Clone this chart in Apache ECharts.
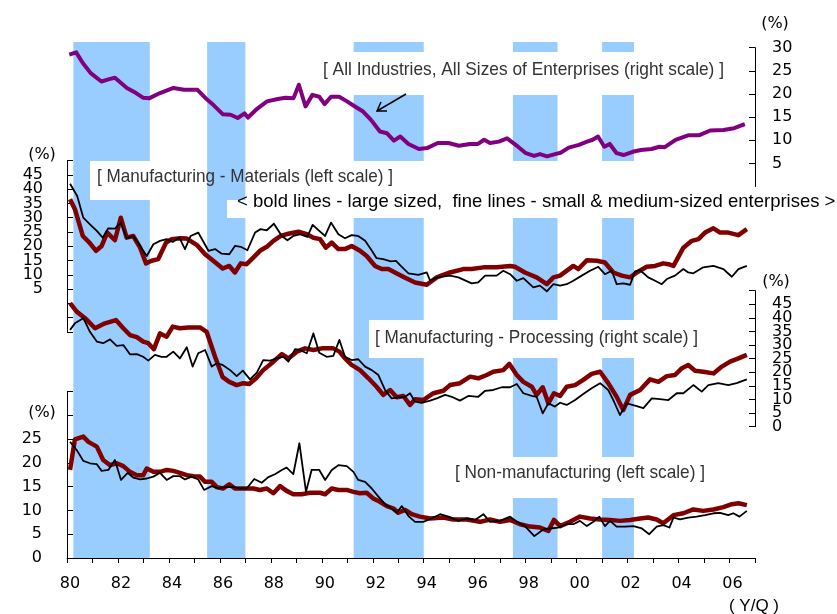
<!DOCTYPE html>
<html>
<head>
<meta charset="utf-8">
<script src="https://cdn.jsdelivr.net/npm/echarts@6/dist/echarts.min.js"></script>
<style>
html,body{margin:0;padding:0;background:#fff}
#chart{width:837px;height:614px}
</style>
</head>
<body>
<div id="chart"></div>
<script>
// shaded periods (year, decimal)
var recessions = [[1980.25,1983.25],[1985.5,1987.0],[1991.25,1994.0],[1997.5,1999.25],[2001.0,2002.25]];

// All industries, all sizes (right scale, top)
var allIndustries = [[1980.09,28.5],[1980.36,29.0],[1980.62,26.7],[1980.93,24.5],[1981.35,22.7],[1981.66,23.2],[1981.88,23.5],[1982.35,21.3],[1982.71,20.2],[1982.98,19.2],[1983.24,19.1],[1983.65,20.2],[1984.18,21.3],[1984.59,20.9],[1985.12,20.9],[1985.44,19.1],[1985.75,17.6],[1986.12,15.6],[1986.42,15.5],[1986.70,14.8],[1986.97,15.8],[1987.10,14.9],[1987.42,16.6],[1987.85,18.4],[1988.27,18.9],[1988.58,19.2],[1988.89,19.1],[1989.10,22.0],[1989.36,17.3],[1989.63,19.8],[1989.90,19.4],[1990.11,17.8],[1990.36,19.4],[1990.68,19.4],[1990.99,18.4],[1991.30,17.3],[1991.62,16.2],[1991.93,14.4],[1992.28,11.9],[1992.56,11.5],[1992.83,9.9],[1993.08,10.8],[1993.40,9.2],[1993.81,8.1],[1994.13,8.3],[1994.55,9.4],[1994.97,9.4],[1995.38,8.8],[1995.81,9.2],[1996.13,9.2],[1996.37,10.1],[1996.60,9.4],[1996.95,9.7],[1997.27,10.4],[1997.70,8.6],[1998.01,7.2],[1998.33,6.6],[1998.56,7.0],[1998.84,6.5],[1999.15,7.0],[1999.37,7.3],[1999.69,8.4],[2000.09,9.0],[2000.41,9.7],[2000.63,10.1],[2000.84,10.8],[2001.09,8.6],[2001.30,9.2],[2001.57,7.2],[2001.84,6.8],[2002.20,7.5],[2002.52,7.9],[2002.94,8.1],[2003.25,8.6],[2003.46,8.5],[2003.88,10.1],[2004.40,11.1],[2004.61,11.1],[2004.82,11.1],[2005.24,12.1],[2005.76,12.2],[2006.18,12.6],[2006.60,13.5]];

// Manufacturing - Materials (left scale)
var materialsLarge = [[1980.12,36.5],[1980.31,33.0],[1980.62,23.6],[1980.88,21.3],[1981.14,18.4],[1981.36,20.1],[1981.58,24.8],[1981.88,22.1],[1982.11,30.0],[1982.34,23.0],[1982.60,23.6],[1982.87,19.5],[1983.10,14.0],[1983.32,14.9],[1983.58,15.5],[1983.89,21.3],[1984.11,22.5],[1984.43,22.8],[1984.70,22.7],[1985.09,20.5],[1985.42,17.2],[1985.74,14.9],[1986.11,12.2],[1986.37,13.1],[1986.59,10.8],[1986.82,14.0],[1987.05,13.7],[1987.31,16.0],[1987.57,18.4],[1987.84,19.8],[1988.10,21.9],[1988.39,23.6],[1988.69,24.4],[1989.08,25.1],[1989.41,24.2],[1989.67,23.0],[1989.93,22.5],[1990.16,19.5],[1990.39,21.3],[1990.65,19.0],[1990.91,19.0],[1991.17,20.1],[1991.50,18.4],[1991.76,16.6],[1992.09,13.1],[1992.35,12.0],[1992.61,12.0],[1993.00,10.2],[1993.33,8.7],[1993.66,7.3],[1994.12,6.5],[1994.51,9.1],[1995.03,10.8],[1995.55,12.0],[1995.88,12.0],[1996.34,12.6],[1996.86,12.6],[1997.39,13.1],[1997.58,12.8],[1997.97,10.8],[1998.43,9.1],[1998.83,6.7],[1999.09,9.1],[1999.35,9.7],[1999.87,13.1],[2000.07,12.0],[2000.40,15.1],[2000.79,14.9],[2001.11,14.3],[2001.44,10.8],[2001.77,9.7],[2002.10,9.1],[2002.36,10.8],[2002.75,12.8],[2003.08,13.1],[2003.40,14.0],[2003.60,13.7],[2003.80,13.1],[2004.19,19.5],[2004.52,21.9],[2004.78,22.5],[2005.04,24.8],[2005.37,26.3],[2005.63,24.8],[2005.95,24.8],[2006.35,23.9],[2006.68,26.0]];
var materialsSmall = [[1980.12,41.9],[1980.40,37.6],[1980.64,30.0],[1980.90,27.7],[1981.17,25.4],[1981.40,23.0],[1981.62,26.3],[1981.88,26.2],[1982.11,28.3],[1982.34,22.8],[1982.60,23.6],[1982.87,20.1],[1983.13,16.6],[1983.39,20.7],[1983.65,21.9],[1983.91,22.5],[1984.15,21.5],[1984.41,23.0],[1984.63,19.0],[1984.85,23.6],[1985.15,24.8],[1985.55,18.4],[1985.81,19.0],[1986.07,17.4],[1986.37,17.2],[1986.59,20.1],[1986.82,19.8],[1987.08,18.6],[1987.38,24.8],[1987.60,26.0],[1987.84,25.6],[1988.12,27.9],[1988.43,23.6],[1988.65,22.1],[1988.88,23.6],[1989.14,24.2],[1989.43,23.3],[1989.64,27.5],[1989.90,25.4],[1990.13,23.6],[1990.36,28.3],[1990.65,24.2],[1990.91,22.8],[1991.17,23.9],[1991.43,23.6],[1991.70,21.9],[1991.92,19.0],[1992.15,15.8],[1992.41,15.5],[1992.70,14.7],[1992.91,14.9],[1993.14,12.8],[1993.40,10.5],[1993.79,10.0],[1994.12,10.8],[1994.25,7.9],[1994.51,9.1],[1995.03,9.7],[1995.36,9.1],[1995.88,7.0],[1996.14,7.3],[1996.41,9.7],[1996.86,9.7],[1997.12,11.4],[1997.39,10.2],[1997.65,7.9],[1997.91,8.8],[1998.30,5.6],[1998.56,6.2],[1998.83,4.2],[1999.09,6.7],[1999.35,6.2],[1999.61,6.7],[1999.87,7.9],[2000.20,9.7],[2000.53,11.4],[2000.85,12.8],[2001.11,10.2],[2001.38,11.4],[2001.57,6.7],[2001.83,7.0],[2002.10,6.5],[2002.29,11.2],[2002.49,11.6],[2002.81,9.1],[2003.08,7.9],[2003.34,6.7],[2003.54,8.5],[2003.86,9.7],[2004.19,12.0],[2004.38,10.8],[2004.58,10.5],[2004.97,12.6],[2005.37,13.1],[2005.76,12.0],[2006.09,9.3],[2006.35,12.0],[2006.68,13.1]];

// Manufacturing - Processing (right scale)
var processingLarge = [[1980.12,45.4],[1980.38,42.3],[1980.71,39.9],[1981.10,36.2],[1981.49,38.0],[1981.92,39.2],[1982.21,36.2],[1982.47,33.7],[1982.74,32.9],[1982.99,31.3],[1983.19,30.7],[1983.41,28.5],[1983.65,34.3],[1983.91,33.1],[1984.15,36.8],[1984.43,36.2],[1984.76,36.5],[1985.22,36.5],[1985.48,34.9],[1985.81,25.7],[1986.11,18.2],[1986.37,16.5],[1986.66,15.3],[1986.92,16.0],[1987.15,15.7],[1987.42,17.8],[1987.70,20.8],[1988.10,23.9],[1988.43,26.7],[1988.69,25.1],[1989.02,27.6],[1989.34,28.8],[1989.67,28.2],[1990.00,28.8],[1990.45,28.8],[1990.69,27.6],[1990.91,25.1],[1991.17,22.7],[1991.50,20.8],[1991.83,17.8],[1992.15,14.7],[1992.41,11.7],[1992.68,13.5],[1992.94,10.8],[1993.20,11.3],[1993.46,8.0],[1993.66,10.1],[1993.98,9.8],[1994.38,12.3],[1994.77,13.2],[1995.03,15.3],[1995.42,16.0],[1995.82,18.4],[1996.14,17.8],[1996.47,19.0],[1996.73,20.2],[1997.12,20.8],[1997.36,23.1],[1997.65,19.0],[1997.91,16.5],[1998.24,14.7],[1998.43,11.7],[1998.67,14.5],[1998.89,8.6],[1999.11,12.3],[1999.35,11.3],[1999.61,14.7],[1999.94,15.3],[2000.26,17.2],[2000.59,19.4],[2000.92,20.2],[2001.24,16.0],[2001.57,11.0],[2001.83,6.1],[2002.10,11.7],[2002.49,13.5],[2002.88,17.4],[2003.21,16.5],[2003.54,18.6],[2003.86,19.0],[2004.13,21.5],[2004.38,22.7],[2004.65,20.6],[2004.97,20.2],[2005.37,19.6],[2005.70,22.1],[2006.02,23.9],[2006.35,25.1],[2006.68,26.4]];
var processingSmall = [[1980.12,35.6],[1980.31,38.0],[1980.64,39.9],[1980.90,34.9],[1981.17,31.3],[1981.42,30.7],[1981.69,32.1],[1981.95,29.7],[1982.21,30.0],[1982.47,26.6],[1982.74,26.7],[1982.99,25.7],[1983.19,24.3],[1983.45,26.4],[1983.71,25.7],[1983.91,25.7],[1984.17,27.6],[1984.43,25.1],[1984.70,29.2],[1984.93,22.1],[1985.15,27.0],[1985.42,28.2],[1985.68,22.1],[1985.88,23.3],[1986.11,22.7],[1986.40,20.8],[1986.66,18.6],[1986.90,20.6],[1987.18,17.4],[1987.45,19.9],[1987.70,24.5],[1987.97,24.3],[1988.23,25.1],[1988.49,25.7],[1988.69,23.9],[1988.95,28.5],[1989.14,28.2],[1989.41,27.0],[1989.67,34.3],[1989.90,27.2],[1990.19,25.7],[1990.45,26.0],[1990.69,31.9],[1990.91,25.7],[1991.17,24.5],[1991.43,24.8],[1991.70,22.1],[1991.96,20.8],[1992.22,19.0],[1992.48,13.5],[1992.74,10.4],[1993.00,10.8],[1993.27,11.0],[1993.46,12.3],[1993.66,9.2],[1993.92,8.8],[1994.25,9.6],[1994.51,10.4],[1994.84,11.7],[1995.10,11.0],[1995.42,9.6],[1995.75,11.3],[1996.14,11.0],[1996.41,13.2],[1996.73,13.5],[1997.06,14.5],[1997.39,14.5],[1997.65,15.7],[1997.91,12.3],[1998.24,11.3],[1998.43,11.0],[1998.67,4.9],[1998.89,8.6],[1999.15,7.4],[1999.35,8.8],[1999.61,8.0],[1999.94,9.8],[2000.26,12.0],[2000.59,14.1],[2000.92,16.0],[2001.24,13.5],[2001.44,9.8],[2001.70,4.3],[2001.97,8.6],[2002.36,7.6],[2002.62,6.8],[2002.95,10.4],[2003.27,10.1],[2003.60,9.8],[2003.93,12.3],[2004.19,12.3],[2004.58,15.3],[2004.91,12.9],[2005.17,15.3],[2005.56,16.0],[2005.95,15.3],[2006.28,16.0],[2006.68,17.4]];

// Non-manufacturing (left scale)
var nonMfgLarge = [[1980.12,18.5],[1980.31,24.9],[1980.64,25.5],[1980.84,24.4],[1981.17,23.4],[1981.42,20.6],[1981.69,19.5],[1981.95,19.9],[1982.21,19.3],[1982.47,18.1],[1982.74,17.4],[1982.99,17.4],[1983.13,18.8],[1983.39,18.1],[1983.65,18.1],[1983.91,18.5],[1984.17,18.3],[1984.43,17.9],[1984.70,17.4],[1984.96,17.2],[1985.22,17.1],[1985.42,16.0],[1985.68,16.0],[1985.88,14.9],[1986.13,14.6],[1986.37,15.5],[1986.59,14.6],[1986.92,14.6],[1987.31,14.6],[1987.57,14.3],[1987.84,14.6],[1988.10,13.6],[1988.36,15.1],[1988.62,14.1],[1988.88,13.4],[1989.21,13.4],[1989.54,13.7],[1989.93,13.7],[1990.13,13.4],[1990.39,14.6],[1990.65,14.3],[1990.98,14.3],[1991.24,13.9],[1991.50,13.6],[1991.76,13.7],[1992.02,12.5],[1992.28,11.8],[1992.55,10.9],[1992.81,10.4],[1993.00,9.5],[1993.27,10.1],[1993.53,9.2],[1993.85,8.7],[1994.25,8.3],[1994.77,8.5],[1995.16,8.1],[1995.69,8.1],[1996.21,7.6],[1996.60,8.1],[1996.99,7.6],[1997.39,8.0],[1997.78,7.1],[1998.17,6.6],[1998.56,6.4],[1998.89,5.7],[1999.11,8.0],[1999.35,6.7],[1999.74,7.6],[2000.13,8.7],[2000.53,8.3],[2000.92,8.1],[2001.31,8.0],[2001.70,7.8],[2002.10,8.0],[2002.49,8.3],[2002.81,8.5],[2003.14,8.1],[2003.40,7.3],[2003.80,9.0],[2004.19,9.4],[2004.58,10.2],[2004.97,9.9],[2005.37,10.2],[2005.76,10.7],[2006.09,11.3],[2006.35,11.5],[2006.68,11.1]];
var nonMfgSmall = [[1980.12,24.4],[1980.38,22.7],[1980.64,20.4],[1980.90,19.9],[1981.17,19.7],[1981.36,18.3],[1981.62,18.5],[1981.88,20.6],[1982.12,16.4],[1982.38,17.9],[1982.60,16.9],[1982.87,16.5],[1983.13,16.7],[1983.39,17.1],[1983.65,17.9],[1983.91,16.4],[1984.17,17.2],[1984.43,17.2],[1984.63,16.5],[1984.89,17.1],[1985.15,16.5],[1985.38,14.3],[1985.68,15.1],[1985.94,14.6],[1986.20,14.9],[1986.53,14.9],[1986.79,14.6],[1987.05,14.6],[1987.35,16.6],[1987.64,15.8],[1987.90,17.0],[1988.16,17.6],[1988.43,18.5],[1988.62,19.0],[1988.88,17.6],[1989.12,24.1],[1989.38,13.9],[1989.60,18.5],[1989.90,18.5],[1990.13,16.4],[1990.39,18.5],[1990.65,19.5],[1990.98,19.3],[1991.24,18.1],[1991.43,16.4],[1991.70,16.0],[1991.96,14.6],[1992.22,12.9],[1992.48,11.3],[1992.74,10.4],[1992.94,9.5],[1993.14,10.9],[1993.40,8.8],[1993.66,7.6],[1993.98,7.6],[1994.31,8.3],[1994.64,9.2],[1994.97,8.7],[1995.36,7.8],[1995.69,8.3],[1996.01,8.0],[1996.34,9.2],[1996.60,7.6],[1996.99,7.8],[1997.39,8.7],[1997.65,7.6],[1997.97,6.7],[1998.34,4.6],[1998.69,6.0],[1998.96,6.2],[1999.28,6.4],[1999.61,7.1],[1999.87,7.1],[2000.13,7.8],[2000.40,6.7],[2000.66,7.6],[2000.89,8.7],[2001.11,6.7],[2001.31,7.8],[2001.57,6.6],[2001.90,6.6],[2002.23,6.7],[2002.56,6.2],[2002.85,5.0],[2003.14,6.6],[2003.40,6.9],[2003.64,6.4],[2003.80,8.5],[2004.06,8.1],[2004.38,8.5],[2004.71,8.7],[2005.04,9.0],[2005.37,9.4],[2005.63,9.5],[2005.95,9.0],[2006.15,9.4],[2006.39,8.7],[2006.68,9.9]];

// tick labels
var xLabelYears = [1980,1982,1984,1986,1988,1990,1992,1994,1996,1998,2000,2002,2004,2006];
var allIndLabels = [5,10,15,20,25,30];
var materialsLabels = [5,10,15,20,25,30,35,40,45];
var processingLabels = [0,5,10,15,20,25,30,35,40,45];
var nonMfgLabels = [0,5,10,15,20,25];

var RED = '#800000', PURPLE = '#800080', BLACK = '#000';
var tickFont = {fontFamily: 'DejaVu Sans', fontSize: 16, color: '#000'};
var boxFont = '19px "Liberation Sans"';

// squeeze a text to the width it takes in the picture (narrow face not installed)
function fitScale(text, font, width) {
  var ctx = document.createElement('canvas').getContext('2d');
  ctx.font = font;
  return width / ctx.measureText(text).width;
}
function boxText(text, x, y, width) {
  return {
    type: 'text', z: 6, x: x, y: y, scaleX: fitScale(text, boxFont, width),
    style: {text: text, x: 0, y: 0, font: boxFont, fill: '#333', textVerticalAlign: 'middle'}
  };
}
function every2(arr, start) {
  return arr.filter(function (v, i) { return i % 2 === start; });
}

var chart = echarts.init(document.getElementById('chart'));

function yAx(grid, pos, min, max, labels, margin, tickVals, bare) {
  var ax = {
    type: 'value', gridIndex: grid, position: pos, min: min, max: max, interval: 5,
    axisLine: {show: !bare, lineStyle: {color: '#000', width: 1}},
    axisTick: {show: !bare, inside: true, length: 6, lineStyle: {color: '#000'}},
    axisLabel: Object.assign({customValues: labels, margin: margin,
      showMinLabel: true, showMaxLabel: true, hideOverlap: false}, tickFont),
    splitLine: {show: false}
  };
  if (tickVals) ax.axisTick.customValues = tickVals;
  return ax;
}

function line(name, x, data, color, width, z) {
  return {
    name: name, type: 'line', xAxisIndex: x, yAxisIndex: x, data: data,
    showSymbol: false, symbol: 'none', z: z,
    lineStyle: {color: color, width: width, join: 'round'}
  };
}

var grids = [
  {left: 67, right: 82, top: 42, height: 516},
  {left: 67, right: 82, top: 47.7, height: 138.8},
  {left: 67, right: 82, top: 160.7, height: 171.1},
  {left: 67, right: 82, top: 290.7, height: 136},
  {left: 67, right: 82, top: 391.4, height: 166.6}
];

var xAxes = grids.map(function (g, i) {
  return {type: 'value', gridIndex: i, min: 1980, max: 2007, interval: 1, show: false, splitLine: {show: false}};
});
xAxes[4] = {
  type: 'value', gridIndex: 4, min: 1980, max: 2007, interval: 1,
  axisLine: {show: true, lineStyle: {color: '#000', width: 1}},
  axisTick: {show: true, length: 5, lineStyle: {color: '#000'}},
  axisLabel: Object.assign({
    customValues: xLabelYears, margin: 18, padding: [0, 0, 0, 6],
    formatter: function (v) { var s = String(v % 100); return s.length < 2 ? '0' + s : s; }
  }, tickFont),
  splitLine: {show: false}
};

var option = {
  animation: false,
  backgroundColor: '#fff',
  grid: grids,
  xAxis: xAxes,
  yAxis: [
    {type: 'value', gridIndex: 0, min: 0, max: 1, show: false},
    yAx(1, 'right', 0, 30, allIndLabels, 17, allIndLabels),
    // the tightly packed scales are split over two axes so no label gets dropped
    yAx(2, 'left', -10, 50, every2(materialsLabels, 0), 24),
    yAx(3, 'right', 0, 50, every2(processingLabels, 0), 17),
    yAx(4, 'left', 0, 35, nonMfgLabels, 25),
    yAx(2, 'left', -10, 50, every2(materialsLabels, 1), 24, null, true),
    yAx(3, 'right', 0, 50, every2(processingLabels, 1), 17, null, true)
  ],
  series: [
    {
      type: 'line', xAxisIndex: 0, yAxisIndex: 0, data: [], z: 1, silent: true,
      markArea: {
        silent: true,
        itemStyle: {color: '#99CCFF', opacity: 1},
        data: recessions.map(function (r) { return [{xAxis: r[0]}, {xAxis: r[1]}]; })
      }
    },
    line('All Industries', 1, allIndustries, PURPLE, 4, 5),
    line('Materials large', 2, materialsLarge, RED, 4.5, 4),
    line('Materials small', 2, materialsSmall, BLACK, 1.8, 5),
    line('Processing large', 3, processingLarge, RED, 4.5, 4),
    line('Processing small', 3, processingSmall, BLACK, 1.8, 5),
    line('Non-mfg large', 4, nonMfgLarge, RED, 4.5, 4),
    line('Non-mfg small', 4, nonMfgSmall, BLACK, 1.8, 5)
  ],
  graphic: [
    // white label boxes
    {type: 'rect', z: 3, shape: {x: 318, y: 52, width: 412, height: 43}, style: {fill: '#fff'}},
    {type: 'rect', z: 3, shape: {x: 90, y: 161, width: 115, height: 39}, style: {fill: '#fff'}},
    {type: 'rect', z: 3, shape: {x: 340, y: 161, width: 360, height: 39}, style: {fill: '#fff'}},
    {type: 'rect', z: 3, shape: {x: 227, y: 200, width: 610, height: 18}, style: {fill: '#fff'}},
    {type: 'rect', z: 3, shape: {x: 369, y: 320, width: 340, height: 38}, style: {fill: '#fff'}},
    {type: 'rect', z: 3, shape: {x: 450, y: 457, width: 262, height: 41}, style: {fill: '#fff'}},
    // texts
    boxText('[ All Industries, All Sizes of Enterprises (right scale) ]', 323, 70, 401),
    boxText('[ Manufacturing - Materials (left scale) ]', 97, 177, 296),
    boxText('[ Manufacturing - Processing (right scale) ]', 375, 338, 323),
    boxText('[ Non-manufacturing (left scale) ]', 455, 473, 250),
    {type: 'text', z: 6, style: {text: '< bold lines - large sized,  fine lines - small & medium-sized enterprises >', x: 237, y: 202, font: '18.5px "Liberation Sans"', fill: '#000', textVerticalAlign: 'middle'}},
    {type: 'text', z: 6, style: {text: '(%)', x: 775, y: 24, font: '16px "DejaVu Sans"', fill: '#000', textAlign: 'center', textVerticalAlign: 'middle'}},
    {type: 'text', z: 6, style: {text: '(%)', x: 42, y: 155, font: '16px "DejaVu Sans"', fill: '#000', textAlign: 'center', textVerticalAlign: 'middle'}},
    {type: 'text', z: 6, style: {text: '(%)', x: 776, y: 282, font: '16px "DejaVu Sans"', fill: '#000', textAlign: 'center', textVerticalAlign: 'middle'}},
    {type: 'text', z: 6, style: {text: '(%)', x: 42, y: 413, font: '16px "DejaVu Sans"', fill: '#000', textAlign: 'center', textVerticalAlign: 'middle'}},
    {type: 'text', z: 6, style: {text: '( Y/Q )', x: 754, y: 606, font: '17px "Liberation Sans"', fill: '#000', textAlign: 'center', textVerticalAlign: 'middle'}},
    // arrow to the all-industries line
    {type: 'polyline', z: 6, shape: {points: [[406, 94], [377, 111]]}, style: {stroke: '#000', lineWidth: 1.5, fill: null}},
    {type: 'polyline', z: 6, shape: {points: [[387, 111], [377, 111], [381, 102]]}, style: {stroke: '#000', lineWidth: 1.5, fill: null}}
  ]
};
chart.setOption(option);
</script>
</body>
</html>
